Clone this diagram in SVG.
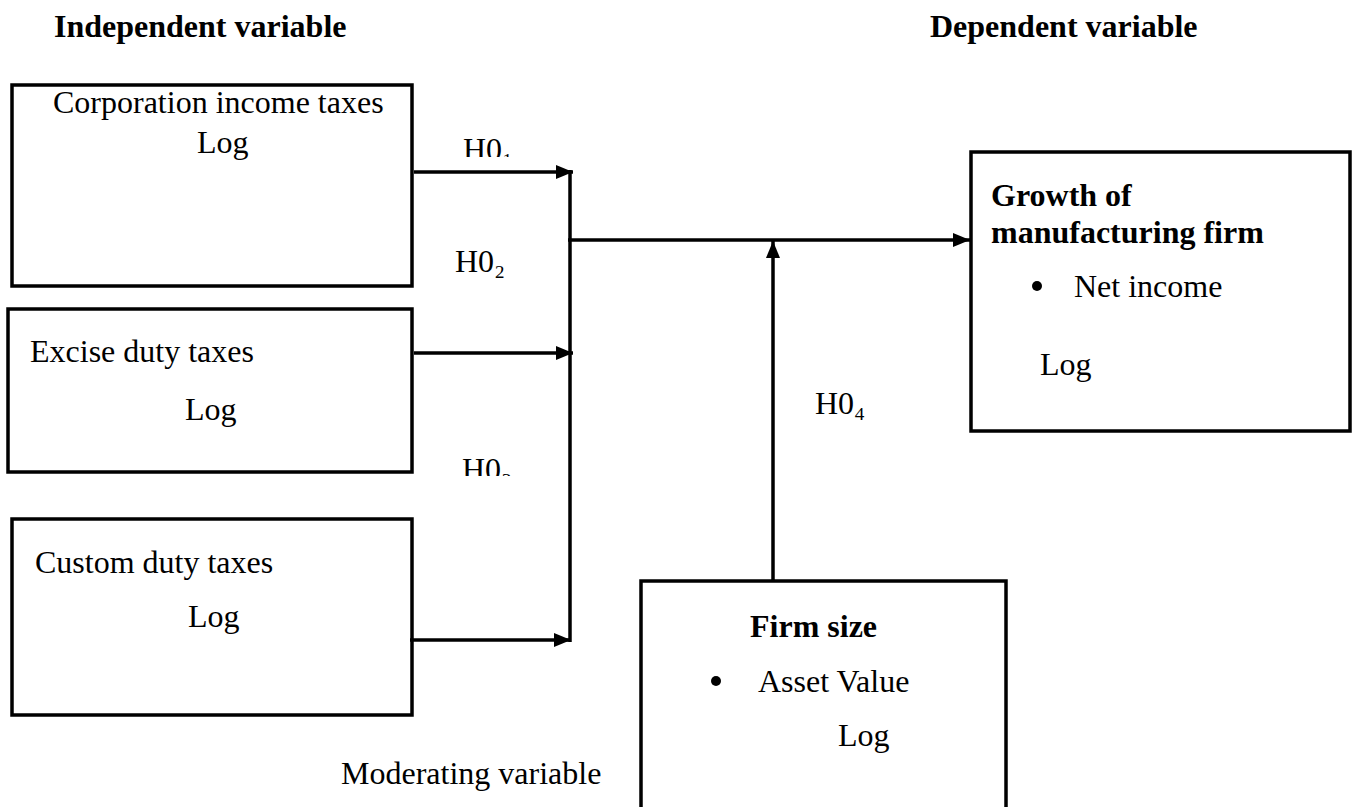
<svg xmlns="http://www.w3.org/2000/svg" width="1354" height="807" viewBox="0 0 1354 807">
<style>
.t{font-family:"Liberation Serif","DejaVu Serif",serif;font-size:32px;fill:#000}
.b{font-weight:bold}
.box{fill:#fff;stroke:#000;stroke-width:3.5}
.ln{fill:none;stroke:#000;stroke-width:3.5}
</style>
<defs>
<marker id="ah" markerUnits="userSpaceOnUse" markerWidth="18" markerHeight="14" refX="17" refY="7" orient="auto">
<path d="M0,0 L17,7 L0,14 z" fill="#000"/>
</marker>
<clipPath id="c1"><rect x="440" y="120" width="100" height="37"/></clipPath>
<clipPath id="c3"><rect x="440" y="440" width="100" height="36"/></clipPath>
</defs>
<rect width="1354" height="807" fill="#fff"/>
<text class="t b" x="54" y="37">Independent variable</text>
<text class="t b" x="930" y="37">Dependent variable</text>
<g id="n-corp">
<rect class="box" x="12" y="85" width="400" height="201"/>
<text class="t" x="53" y="113">Corporation income taxes</text>
<text class="t" x="197" y="153">Log</text>
</g>
<g id="n-excise">
<rect class="box" x="8" y="309" width="404" height="163"/>
<text class="t" x="30" y="362">Excise duty taxes</text>
<text class="t" x="185" y="420">Log</text>
</g>
<g id="n-custom">
<rect class="box" x="12" y="519" width="400" height="196"/>
<text class="t" x="35" y="573">Custom duty taxes</text>
<text class="t" x="188" y="627">Log</text>
</g>
<g id="n-growth">
<rect class="box" x="971" y="152" width="379" height="279"/>
<text class="t b" x="991" y="206">Growth of</text>
<text class="t b" x="991" y="243">manufacturing firm</text>
<circle cx="1037" cy="286" r="5"/>
<text class="t" x="1074" y="297">Net income</text>
<text class="t" x="1040" y="375">Log</text>
</g>
<g id="n-firmsize">
<rect class="box" x="641" y="581" width="365" height="260"/>
<text class="t b" x="750" y="637">Firm size</text>
<circle cx="716" cy="681" r="5"/>
<text class="t" x="758" y="692">Asset Value</text>
<text class="t" x="838" y="746">Log</text>
</g>
<g id="connectors">
<line class="ln" x1="414" y1="172" x2="573" y2="172" marker-end="url(#ah)"/>
<line class="ln" x1="414" y1="353" x2="573" y2="353" marker-end="url(#ah)"/>
<line class="ln" x1="410" y1="640" x2="571" y2="640" marker-end="url(#ah)"/>
<line class="ln" x1="570" y1="170" x2="570" y2="642"/>
<line class="ln" x1="568" y1="240" x2="970" y2="240" marker-end="url(#ah)"/>
<line class="ln" x1="773" y1="581" x2="773" y2="241" marker-end="url(#ah)"/>
</g>
<g id="labels">
<text class="t" x="463" y="160" clip-path="url(#c1)">H0₁</text>
<text class="t" x="455" y="272">H0₂</text>
<text class="t" x="462" y="480" clip-path="url(#c3)">H0₃</text>
<text class="t" x="815" y="414">H0₄</text>
<text class="t" x="341" y="784">Moderating variable</text>
</g>
</svg>
